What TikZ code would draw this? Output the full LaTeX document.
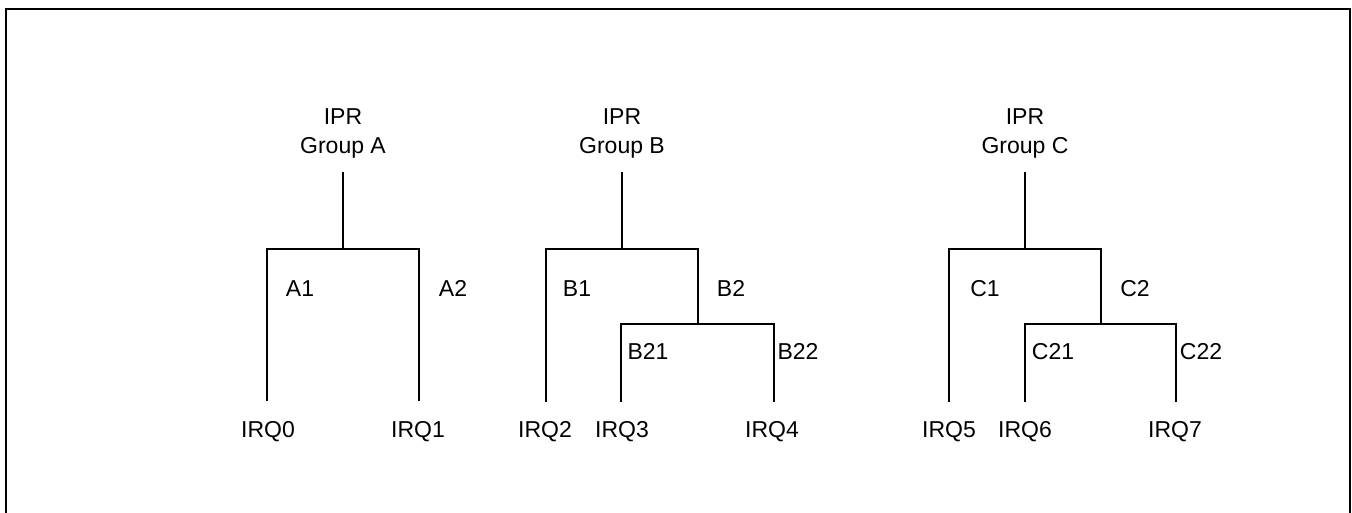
\documentclass[tikz,border=0pt]{standalone}
\usepackage{fontspec}
\setmainfont{Liberation Sans}
\begin{document}
\begin{tikzpicture}[x=1pt,y=-1pt,
  lbl/.style={inner sep=0pt,anchor=base,font=\fontsize{23}{29}\selectfont},
  ttl/.style={inner sep=0pt,anchor=base,align=center,font=\fontsize{23}{29}\selectfont},
  tree/.style={line width=2pt,line cap=rect},
  frame/.style={line width=2.2pt}]
\useasboundingbox (0,0) rectangle (1352,513);
\draw[frame] (6,520) -- (6,9) -- (1350,9) -- (1350,520);
% ---------- Group A ----------
\node[ttl] (ta) at (343,154) {IPR\\Group A};
\coordinate (a0) at (343,173);
\coordinate (aj) at (343,249);
\coordinate (al) at (267,249);
\coordinate (ar) at (419,249);
\coordinate (ale) at (267,400);
\coordinate (are) at (419,400);
\draw[tree] (a0) -- (aj);
\draw[tree] (ale) -- (al) -- (ar) -- (are);
\node[lbl] (A1) at (300,296) {A1};
\node[lbl] (A2) at (453,296) {A2};
\node[lbl] (q0) at (268,437) {IRQ0};
\node[lbl] (q1) at (418,437) {IRQ1};
% ---------- Group B ----------
\node[ttl] (tb) at (622,154) {IPR\\Group B};
\coordinate (b0) at (622,173);
\coordinate (bj) at (622,249);
\coordinate (bl) at (546,249);
\coordinate (br) at (698,249);
\coordinate (ble) at (546,401);
\coordinate (brj) at (698,324);
\coordinate (bsl) at (621,324);
\coordinate (bsr) at (774,324);
\coordinate (bsle) at (621,401);
\coordinate (bsre) at (774,401);
\draw[tree] (b0) -- (bj);
\draw[tree] (ble) -- (bl) -- (br) -- (brj);
\draw[tree] (bsle) -- (bsl) -- (bsr) -- (bsre);
\node[lbl] (B1) at (577,296) {B1};
\node[lbl] (B2) at (731,296) {B2};
\node[lbl] (B21) at (648,359) {B21};
\node[lbl] (B22) at (798,359) {B22};
\node[lbl] (q2) at (545,437) {IRQ2};
\node[lbl] (q3) at (622,437) {IRQ3};
\node[lbl] (q4) at (772,437) {IRQ4};
% ---------- Group C ----------
\node[ttl] (tc) at (1025,154) {IPR\\Group C};
\coordinate (c0) at (1025,173);
\coordinate (cj) at (1025,249);
\coordinate (cl) at (949,249);
\coordinate (cr) at (1101,249);
\coordinate (cle) at (949,401);
\coordinate (crj) at (1101,324);
\coordinate (csl) at (1025,324);
\coordinate (csr) at (1176,324);
\coordinate (csle) at (1025,401);
\coordinate (csre) at (1176,401);
\draw[tree] (c0) -- (cj);
\draw[tree] (cle) -- (cl) -- (cr) -- (crj);
\draw[tree] (csle) -- (csl) -- (csr) -- (csre);
\node[lbl] (C1) at (985,296) {C1};
\node[lbl] (C2) at (1135,296) {C2};
\node[lbl] (C21) at (1053,359) {C21};
\node[lbl] (C22) at (1201,359) {C22};
\node[lbl] (q5) at (949,437) {IRQ5};
\node[lbl] (q6) at (1025,437) {IRQ6};
\node[lbl] (q7) at (1175,437) {IRQ7};
\end{tikzpicture}
\end{document}
